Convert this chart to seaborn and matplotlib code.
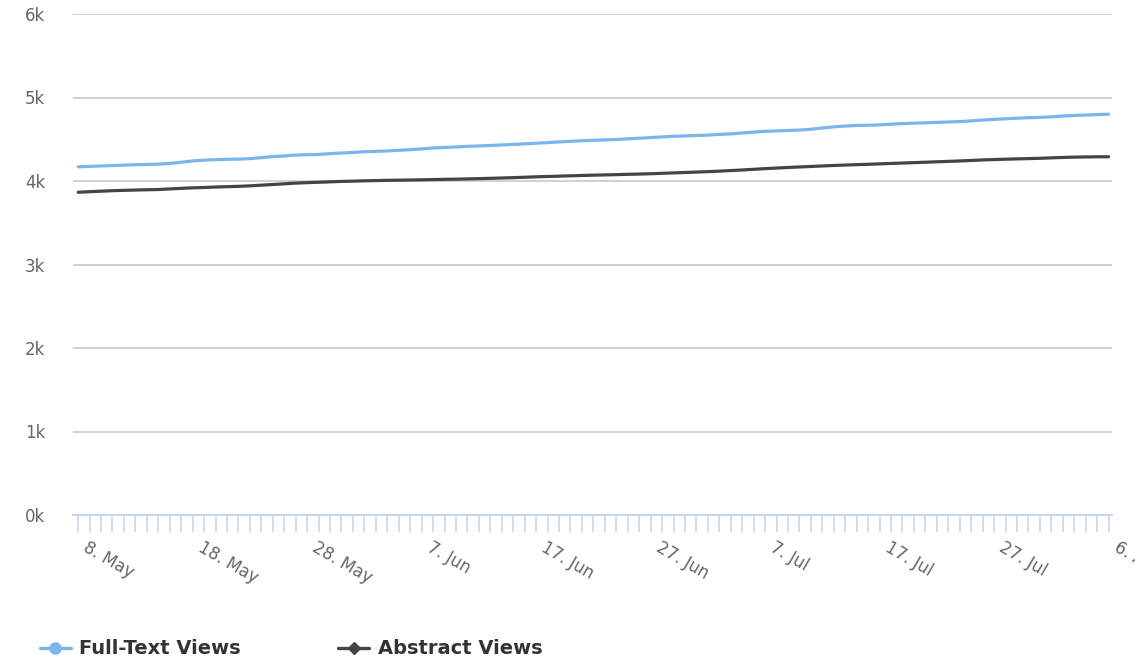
import matplotlib
matplotlib.use("Agg")
import matplotlib.pyplot as plt
import matplotlib.transforms as mtransforms
import numpy as np
import pandas as pd
import seaborn as sns
from matplotlib.lines import Line2D

# ---------------- data ----------------
days = list(range(91))  # 8 May .. 6 Aug, daily
tick_labels = ["8. May", "18. May", "28. May", "7. Jun", "17. Jun",
               "27. Jun", "7. Jul", "17. Jul", "27. Jul", "6. Aug"]
series_names = ["Full-Text Views", "Abstract Views"]
series_colors = ["#7cb5ec", "#434348"]

full_text = [4170, 4175, 4180, 4185, 4190, 4195, 4198, 4202, 4210, 4225,
             4240, 4250, 4255, 4260, 4262, 4268, 4280, 4292, 4300, 4310,
             4315, 4318, 4328, 4335, 4342, 4350, 4355, 4360, 4368, 4375,
             4385, 4395, 4402, 4408, 4415, 4420, 4425, 4432, 4438, 4445,
             4452, 4460, 4468, 4475, 4482, 4488, 4492, 4497, 4505, 4512,
             4520, 4528, 4535, 4540, 4545, 4550, 4558, 4565, 4575, 4585,
             4595, 4600, 4605, 4610, 4620, 4635, 4648, 4658, 4665, 4668,
             4672, 4680, 4688, 4693, 4697, 4702, 4707, 4712, 4720, 4730,
             4738, 4745, 4752, 4758, 4762, 4768, 4778, 4785, 4790, 4795,
             4800]

abstract = [3865, 3872, 3878, 3884, 3888, 3892, 3895, 3898, 3905, 3912,
            3918, 3922, 3928, 3932, 3936, 3942, 3950, 3958, 3966, 3975,
            3980, 3985, 3990, 3995, 3998, 4002, 4005, 4008, 4010, 4012,
            4014, 4017, 4020, 4022, 4025, 4028, 4032, 4036, 4040, 4045,
            4050, 4054, 4058, 4062, 4066, 4070, 4073, 4076, 4080, 4083,
            4087, 4092, 4097, 4102, 4107, 4112, 4118, 4125, 4132, 4140,
            4148, 4155, 4162, 4168, 4174, 4180, 4186, 4191, 4196, 4200,
            4205, 4210, 4215, 4220, 4225, 4230, 4235, 4240, 4246, 4252,
            4257, 4261, 4265, 4268, 4272, 4277, 4282, 4286, 4288, 4290,
            4290]

# ---------------- style ----------------
sns.set_theme(style="white")
plt.rcParams['font.family'] = ['DejaVu Sans']

df = pd.DataFrame({
    "day": days * 2,
    "views": full_text + abstract,
    "series": [n for n in series_names for _ in days],
})

W, H = 1135, 658
fig = plt.figure(figsize=(W / 100, H / 100), dpi=100)
ax = fig.add_axes([73 / W, 1 - 515 / H, (1112 - 73) / W, (515 - 14) / H])

sns.lineplot(data=df, x="day", y="views", hue="series", hue_order=series_names,
             palette=series_colors, linewidth=2.3, ax=ax, legend=False)

ax.set_ylim(0, 6000)
ax.set_yticks(range(0, 6001, 1000))
ax.set_yticklabels([f"{i}k" for i in range(7)])
ax.yaxis.grid(True, color="#c8c8c8", linewidth=1.2)
ax.set_axisbelow(True)

ax.set_xlim(-0.45, 90.3)
ax.set_xticks(days)
ax.set_xticklabels([tick_labels[i // 10] if i % 10 == 0 else "" for i in days],
                   rotation=-30, ha="left", va="top", rotation_mode="anchor")
ax.set_xlabel("")
ax.set_ylabel("")

for s in ["top", "right", "left"]:
    ax.spines[s].set_visible(False)
ax.spines["bottom"].set_color("#ccd6eb")
ax.spines["bottom"].set_linewidth(1.5)

ax.tick_params(axis="x", length=12.5, width=1.2, color="#ccd6eb", direction="out",
               labelsize=12, labelcolor="#666666", pad=4, bottom=True)
ax.tick_params(axis="y", length=0, labelsize=12, labelcolor="#666666", pad=20)

# shift rotated date labels a little to the right of their ticks
shift = mtransforms.ScaledTranslation(11 / 100, 0, fig.dpi_scale_trans)
for tick in ax.xaxis.get_major_ticks():
    tick.label1.set_transform(tick.label1.get_transform() + shift)

handles = [
    Line2D([], [], color=series_colors[0], lw=2.4, marker="o", markersize=8),
    Line2D([], [], color=series_colors[1], lw=2.4, marker="D", markersize=6),
]
fig.legend(handles, series_names, loc="center left", bbox_to_anchor=(30 / W, 1 - 649 / H),
           ncol=2, frameon=False, borderpad=0, handlelength=1.6, handletextpad=0.43,
           columnspacing=5.0, prop={"weight": "bold", "size": 14}, labelcolor="#333333")

fig.savefig("out.png", dpi=100)
